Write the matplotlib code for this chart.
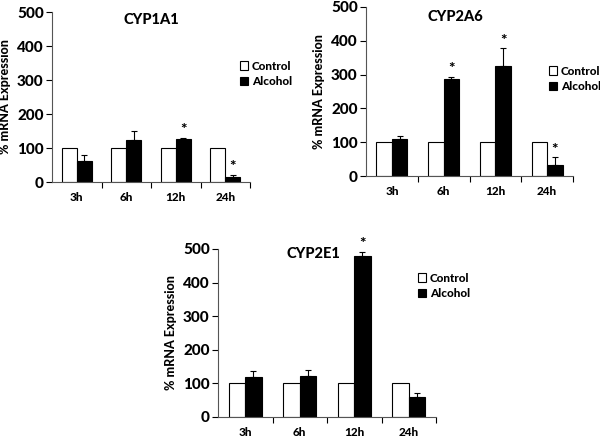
import numpy as np
import matplotlib.pyplot as plt
from matplotlib.patches import Patch

plt.rcParams['font.family'] = ['Lato', 'DejaVu Sans']
plt.rcParams['font.weight'] = 900

times = ['3h', '6h', '12h', '24h']
control = [100, 100, 100, 100]

cyp1a1_alc = [63, 124, 127, 15]
cyp1a1_err = [15, 26, 3, 7]
cyp1a1_sig = [False, False, True, True]

cyp2a6_alc = [110, 287, 325, 33]
cyp2a6_err = [8, 6, 53, 22]
cyp2a6_sig = [False, True, True, True]

cyp2e1_alc = [120, 123, 480, 60]
cyp2e1_err = [18, 16, 12, 11]
cyp2e1_sig = [False, False, True, False]

W, H = 600, 443
FW = 900


def make_axes(fig, left, right, top, bottom):
    ax = fig.add_axes([left / W, (H - bottom) / H, (right - left) / W, (bottom - top) / H])
    return ax, right - left


def panel(ax, wpx, title, alc, err, sig, title_xy, legend_xy):
    x = np.arange(len(times)) + 0.5
    bw = 0.3
    ax.bar(x - bw / 2, control, bw, color='white', edgecolor='black', linewidth=0.8)
    ax.bar(x + bw / 2, alc, bw, color='black', edgecolor='black', linewidth=0.8)
    ax.errorbar(x + bw / 2, alc, yerr=[np.zeros(len(alc)), err], fmt='none',
                ecolor='black', elinewidth=0.8, capsize=2.5, capthick=0.8)
    for xi, a, e, s in zip(x, alc, err, sig):
        if s:
            ax.text(xi + bw / 2, a + e + 2, '*', ha='center', va='bottom',
                    fontsize=11, fontweight=FW)
    ax.set_xlim(0, 4)
    ax.set_ylim(0, 500)
    ax.set_yticks([0, 100, 200, 300, 400, 500])
    ax.set_yticklabels(['0', '100', '200', '300', '400', '500'], fontsize=11, fontweight=FW)
    ax.set_xticks(x)
    ax.set_xticklabels(times, fontsize=8.5, fontweight=FW)
    ax.set_xticks([1, 2, 3, 4], minor=True)
    ax.tick_params(axis='x', which='major', length=0, pad=7)
    ax.tick_params(axis='x', which='minor', length=4, direction='out', width=0.8)
    ax.tick_params(axis='y', length=4, width=0.8, pad=2)
    for sp in ['top', 'right']:
        ax.spines[sp].set_visible(False)
    for sp in ['left', 'bottom']:
        ax.spines[sp].set_color('#555555')
        ax.spines[sp].set_linewidth(0.8)
    ax.set_ylabel('% mRNA Expression', fontsize=9, fontweight=FW)
    ax.yaxis.set_label_coords(-41 / wpx, 0.5)
    ax.text(title_xy[0] / W, 1 - title_xy[1] / H, title, transform=ax.figure.transFigure,
            ha='center', va='center', fontsize=10.5, fontweight=FW)
    handles = [Patch(facecolor='white', edgecolor='black', linewidth=0.8, label='Control'),
               Patch(facecolor='black', edgecolor='black', linewidth=0.8, label='Alcohol')]
    ax.legend(handles=handles, loc='center left', frameon=False,
              prop={'size': 8.5, 'weight': FW},
              bbox_to_anchor=(legend_xy[0] / W, 1 - legend_xy[1] / H),
              bbox_transform=ax.figure.transFigure, handlelength=0.7, handleheight=0.7,
              handletextpad=0.3, labelspacing=0.4, borderpad=0, borderaxespad=0)


fig = plt.figure(figsize=(6, 4.43), dpi=100)

ax1, w1 = make_axes(fig, 52, 250, 12, 182)
panel(ax1, w1, 'CYP1A1', cyp1a1_alc, cyp1a1_err, cyp1a1_sig, (151, 20), (240, 74))

ax2, w2 = make_axes(fig, 366, 573, 7, 176)
panel(ax2, w2, 'CYP2A6', cyp2a6_alc, cyp2a6_err, cyp2a6_sig, (455, 17), (549, 79))

ax3, w3 = make_axes(fig, 218, 436, 249, 417)
panel(ax3, w3, 'CYP2E1', cyp2e1_alc, cyp2e1_err, cyp2e1_sig, (313, 254), (418, 286))

fig.savefig('out.png', dpi=100, facecolor='white')
